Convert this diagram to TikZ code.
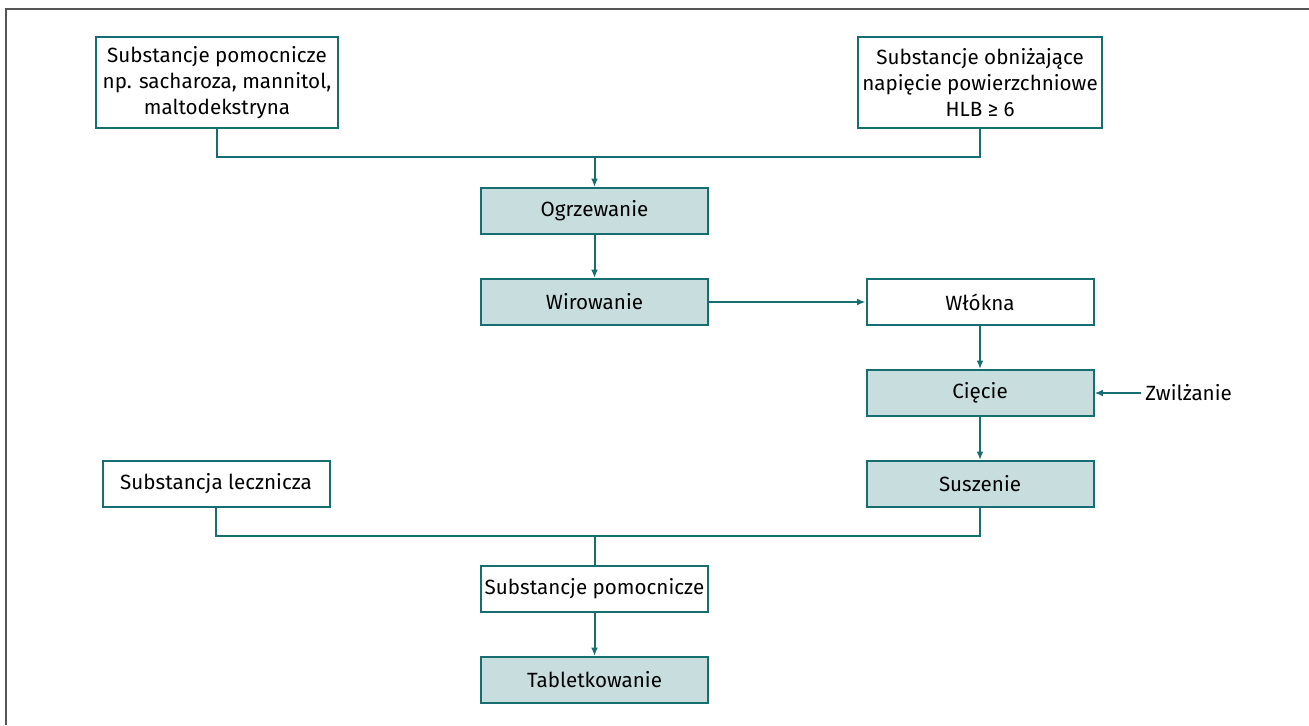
\documentclass[tikz,border=0pt]{standalone}
\usepackage{fontspec}
\setmainfont{Fira Sans}
\usepackage{tikz}
\usetikzlibrary{arrows.meta}
\usetikzlibrary{positioning}
\definecolor{teal}{HTML}{166E70}
\definecolor{tealfill}{HTML}{C8DEDE}
\definecolor{framegray}{HTML}{555555}
\tikzset{box/.style = {draw=teal, line width=1pt, fill=white, align=center,
                       minimum width=113.5pt, minimum height=23pt, inner sep=2pt,
                       font=\fontsize{10.3}{12.9}\selectfont},
         procbox/.style = {box, fill=tealfill},
         conn/.style = {draw=teal, line width=1pt},
         arr/.style = {conn, -{Latex[length=4.2pt,width=3.4pt]}}}

\begin{document}
\begin{tikzpicture}[x=0.5pt, y=-0.5pt]
      \useasboundingbox (0,0) rectangle (1309,725);
      \draw [framegray, line width=1pt] (6,725) -- (6,9) -- (1309,9);
      % inputs
      \node [box, minimum width=121pt, minimum height=45.5pt] (aux) at (217,82.5)
            {Substancje pomocnicze\\np. sacharoza, mannitol,\\maltodekstryna};
      \node [box, minimum width=122pt, minimum height=45.5pt] (surf) at (980,82.5)
            {Substancje obniżające\\napięcie powierzchniowe\\HLB ≥ 6};
      % process
      \node [procbox] (heat) at (594.5,211) {Ogrzewanie};
      \node [procbox] (spin) at (594.5,302) {Wirowanie};
      \node [box] (fibre) at (980,302) {Włókna};
      \node [procbox] (cut) at (980,393) {Cięcie};
      \node [inner sep=2pt, anchor=west, font=\fontsize{10.3}{12.9}\selectfont] (wet) at (1141,393) {Zwilżanie};
      \node [procbox] (dry) at (980,484) {Suszenie};
      \node [box] (drug) at (216,484) {Substancja lecznicza};
      \node [box] (aux2) at (594.5,589) {Substancje pomocnicze};
      \node [procbox] (tab) at (594.5,680) {Tabletkowanie};
      \coordinate (jointop) at (594.5,157);
      \coordinate (joinbot) at (594.5,536);
      \draw [conn] (aux.south) |- (jointop) -| (surf.south);
      \draw [arr] (jointop) -- (heat.north);
      \draw [arr] (heat) -- (spin);
      \draw [arr] (spin) -- (fibre);
      \draw [arr] (fibre) -- (cut);
      \draw [arr] (wet) -- (cut);
      \draw [arr] (cut) -- (dry);
      \draw [conn] (drug.south) |- (joinbot) -| (dry.south);
      \draw [conn] (joinbot) -- (aux2.north);
      \draw [arr] (aux2) -- (tab);
\end{tikzpicture}
\end{document}
